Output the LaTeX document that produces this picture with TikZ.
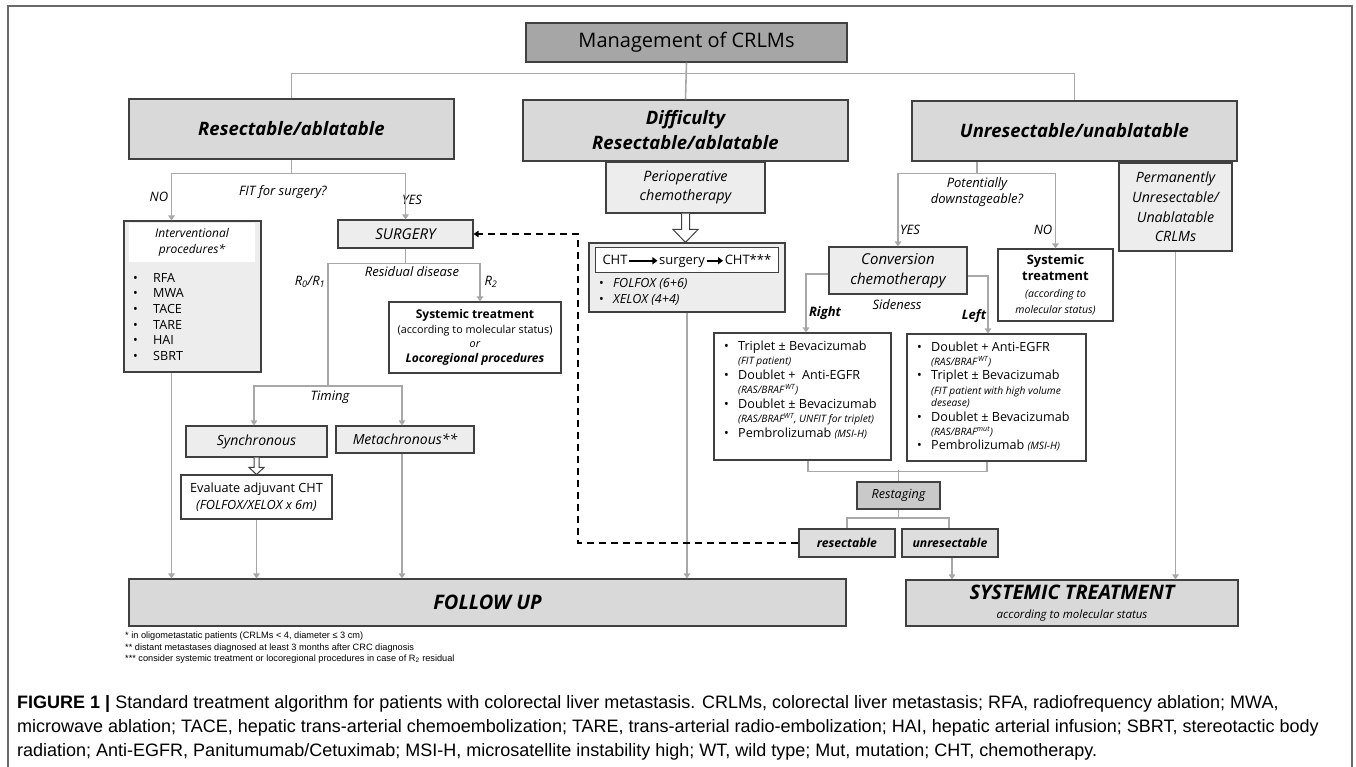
\documentclass[tikz,border=0pt]{standalone}
\usepackage{fontspec}
\setmainfont{Open Sans}
\newfontfamily\capfont{Liberation Sans}
\usetikzlibrary{arrows.meta,positioning,calc}
\definecolor{boxline}{HTML}{404040}
\definecolor{connc}{HTML}{A8A8A8}
\definecolor{mgmtfill}{HTML}{A6A6A6}
\definecolor{catfill}{HTML}{D9D9D9}
\definecolor{lightfill}{HTML}{EDEDED}
\definecolor{stagefill}{HTML}{C9C9C9}
\definecolor{resfill}{HTML}{DEDEDE}
\definecolor{framec}{HTML}{6A6A6A}
\newcommand{\fsz}[2]{\fontsize{#1}{#2}\selectfont}
\newcommand{\subnote}[1]{{\fsz{10.2}{10}\itshape #1}}
\newcommand{\hollowarrow}[5]{%
	\draw[hollow] let \p1=(#1), \p2=(#2) in
	(\x1-#3,\y1) -- (\x1-#3,\y2+#5) -- (\x1-#4,\y2+#5) -- (\x1,\y2)
	-- (\x1+#4,\y2+#5) -- (\x1+#3,\y2+#5) -- (\x1+#3,\y1);}
\tikzset{
	box/.style={draw=boxline, line width=1.1pt, inner sep=0pt, align=center},
	catbox/.style={box, fill=catfill, font=\fsz{18.5}{25}\bfseries\itshape},
	lightbox/.style={box, fill=lightfill},
	whitebox/.style={box, fill=white},
	listtxt/.style={anchor=base west, inner sep=0pt},
	seqtxt/.style={anchor=base, inner sep=1.5pt, text height=9pt, text depth=2.5pt, font=\fsz{13}{15}},
	lbl/.style={inner sep=0pt, align=center, font=\fsz{13}{16}\itshape},
	conn/.style={draw=connc, line width=1.6pt},
	arr/.style={conn, -{Triangle[width=6.5pt,length=5pt]}},
	dasharr/.style={draw=black, line width=1.6pt, dash pattern=on 7pt off 5pt, -{Triangle[width=6.5pt,length=5pt]}},
	seqarr/.style={draw=black, line width=2pt, -{Triangle[width=7pt,length=5pt]}},
	hollow/.style={draw=boxline, fill=white, line width=1pt},
	frame/.style={draw=framec, line width=1.2pt}
}
\begin{document}
\begin{tikzpicture}[x=1pt,y=-1pt]
	\useasboundingbox (0,0) rectangle (1356,767);
	\draw[frame] (8,767) -- (8,6) -- (1352,6) -- (1352,767);
	
	% top level
	\node[box,fill=mgmtfill,minimum width=321,minimum height=39,font=\fsz{20}{24}] (mgmt) at (686.5,42.5) {Management of CRLMs};
	\node[catbox,minimum width=325,minimum height=60] (resect) at (291.5,129) {Resectable/ablatable};
	\node[catbox,minimum width=325,minimum height=61] (diffic) at (685.5,130.5) {Difficulty\\Resectable/ablatable};
	\node[catbox,minimum width=325,minimum height=60] (unres) at (1074.5,131) {Unresectable/unablatable};
	
	% resectable branch
	\node[lightbox,minimum width=137,minimum height=151] (interv) at (192.5,296.5) {};
	\node[fill=white,inner sep=0pt,minimum width=126,minimum height=39,align=center,font=\fsz{12}{16}\itshape] (intervhead) at (192,242.5) {Interventional\\procedures*};
	\node[listtxt,font=\fsz{12.6}{15.7}] (intervlist) at (133,282) {\begin{tabular}[t]{@{}p{20pt}@{}l@{}}
		\textbullet & RFA\\ \textbullet & MWA\\ \textbullet & TACE\\ \textbullet & TARE\\ \textbullet & HAI\\ \textbullet & SBRT
	\end{tabular}};
	\node[lightbox,minimum width=135,minimum height=28,font=\fsz{15}{18}\itshape] (surg) at (405.5,234) {SURGERY};
	\node[whitebox,minimum width=172,minimum height=71,font=\fsz{10.8}{14.5}] (syst1) at (475,337.5) {{\fsz{12}{14.5}\bfseries Systemic treatment}\\(according to molecular status)\\\textit{or}\\{\fsz{12}{14.5}\bfseries\itshape Locoregional procedures}};
	\node[lightbox,minimum width=141,minimum height=31,font=\fsz{14}{17}\itshape] (sync) at (256.5,441.5) {Synchronous};
	\node[lightbox,minimum width=138,minimum height=27,font=\fsz{14}{17}\itshape] (meta) at (405,439.5) {Metachronous**};
	\node[whitebox,minimum width=151,minimum height=44,font=\fsz{12.7}{17}] (evalb) at (256.5,497) {Evaluate adjuvant CHT\\\textit{(FOLFOX/XELOX x 6m)}};
	\node[catbox,minimum width=717,minimum height=47,font=\fsz{20}{24}\bfseries\itshape] (follow) at (487.5,602.5) {FOLLOW UP};
	
	% difficulty branch
	\node[lightbox,minimum width=159,minimum height=51,font=\fsz{14.4}{19}\itshape] (peri) at (685.5,187.5) {Perioperative\\chemotherapy};
	\node[lightbox,minimum width=196,minimum height=69] (chtbox) at (687,277.5) {};
	\node[whitebox,line width=0.8pt,minimum width=183,minimum height=25] (chtseq) at (686.5,259.5) {};
	\node[seqtxt] (cht1) at (615,264) {CHT};
	\node[seqtxt] (surg2) at (682,264) {surgery};
	\node[seqtxt] (cht2) at (748,264) {CHT***};
	\node[listtxt,font=\fsz{12.6}{16}] (chtlist) at (599,287.5) {\begin{tabular}[t]{@{}p{14pt}@{}l@{}}
		\textbullet & \textit{FOLFOX (6+6)}\\ \textbullet & \textit{XELOX (4+4)}
	\end{tabular}};
	
	% unresectable branch
	\node[lightbox,minimum width=138,minimum height=47,font=\fsz{15}{20}\itshape] (conv) at (898,270.5) {Conversion\\chemotherapy};
	\node[whitebox,minimum width=115,minimum height=72,font=\fsz{10.5}{16.3}] (systno) at (1055.5,285) {{\fsz{12.9}{16.3}\bfseries Systemic}\\{\fsz{12.9}{16.3}\bfseries treatment}\\\textit{(according to}\\\textit{molecular status)}};
	\node[lightbox,minimum width=113,minimum height=88,font=\fsz{14.2}{19.6}\itshape] (perm) at (1175.5,207) {Permanently\\Unresectable/\\Unablatable\\CRLMs};
	\node[whitebox,minimum width=177,minimum height=127] (rightb) at (802.5,396.5) {};
	\node[listtxt,font=\fsz{12.6}{14.5}] (rightlist) at (724,350) {\begin{tabular}[t]{@{}p{14pt}@{}l@{}}
		\textbullet & Triplet ± Bevacizumab\\
		& \subnote{(FIT patient)}\\
		\textbullet & Doublet + \ Anti-EGFR\\
		& \subnote{(RAS/BRAF\textsuperscript{\,WT})}\\
		\textbullet & Doublet ± Bevacizumab\\
		& \subnote{(RAS/BRAF\textsuperscript{WT}, UNFIT for triplet)}\\
		\textbullet & Pembrolizumab \subnote{(MSI-H)}
	\end{tabular}};
	\node[whitebox,minimum width=179,minimum height=127] (leftb) at (996.5,397.5) {};
	\node[listtxt,font=\fsz{12.6}{14.4}] (leftlist) at (917,351) {\begin{tabular}[t]{@{}p{14pt}@{}l@{}}
		\textbullet & Doublet + Anti-EGFR\\
		& \subnote{(RAS/BRAF\textsuperscript{\,WT})}\\
		\textbullet & Triplet ± Bevacizumab\\
		& \subnote{(FIT patient with high volume}\\[-2pt]
		& \subnote{desease)}\\
		\textbullet & Doublet ± Bevacizumab\\
		& \subnote{(RAS/BRAF\textsuperscript{mut})}\\
		\textbullet & Pembrolizumab \subnote{(MSI-H)}
	\end{tabular}};
	\node[box,fill=stagefill,minimum width=83,minimum height=27,font=\fsz{12.6}{15}\itshape] (restag) at (898.5,495.5) {Restaging};
	\node[box,fill=resfill,minimum width=96,minimum height=28,font=\fsz{12.2}{15}\bfseries\itshape] (resb) at (847,543) {resectable};
	\node[box,fill=resfill,minimum width=96,minimum height=28,font=\fsz{12.2}{15}\bfseries\itshape] (unresb) at (950,543) {unresectable};
	\node[catbox,minimum width=332,minimum height=46,font=\fsz{11.5}{19}] (systT) at (1072,603) {{\fsz{20}{19}\bfseries\itshape SYSTEMIC TREATMENT}\\\textit{according to molecular status}};
	
	% labels
	\node[lbl] (fitq) at (283,192) {FIT for surgery?};
	\node[lbl] (noL) at (159,197) {NO};
	\node[lbl] (yesL) at (412,200) {YES};
	\node[lbl] (resid) at (412,272) {Residual disease};
	\node[lbl] (r01) at (310,282) {R\textsubscript{0}/R\textsubscript{1}};
	\node[lbl] (r2) at (491,282) {R\textsubscript{2}};
	\node[lbl] (timing) at (330,397) {Timing};
	\node[lbl] (potq) at (977,192) {Potentially\\downstageable?};
	\node[lbl] (yesR) at (910,230) {YES};
	\node[lbl] (noR) at (1043,230) {NO};
	\node[lbl] (side) at (897,305) {Sideness};
	\node[lbl,font=\fsz{13}{16}\bfseries\itshape] (rightL) at (825,313) {Right};
	\node[lbl,font=\fsz{13}{16}\bfseries\itshape] (leftL) at (974,316) {Left};
	
	% connectors
	\draw[conn] (mgmt.south) -- (diffic.north);
	\draw[conn] (resect.north) -- ++(0,-25) -| (unres.north);
	\draw[conn] (resect.south) -- ++(0,14) coordinate (fitbar);
	\draw[arr] (fitbar) -| ([xshift=-21pt]interv.north);
	\draw[arr] (fitbar) -| (surg.north);
	\draw[conn] (surg.south) -- ++(0,15) coordinate (resbar);
	\coordinate (timebar) at (328,386);
	\draw[arr] (resbar) -| ([xshift=5pt]syst1.north);
	\draw[conn] (resbar) -| (timebar);
	\draw[arr] (timebar) -| ([xshift=-2.5pt]sync.north);
	\draw[arr] (timebar) -| ([xshift=-3pt]meta.north);
	\hollowarrow{sync.south}{evalb.north}{2.5pt}{7.5pt}{7pt}
	\draw[arr] ([xshift=-21pt]interv.south) -- ([xshift=-21pt]interv.south |- follow.north);
	\draw[arr] (evalb.south) -- (evalb.south |- follow.north);
	\draw[arr] ([xshift=-3pt]meta.south) -- ([xshift=-3pt]meta.south |- follow.north);
	\hollowarrow{peri.south}{chtbox.north}{4pt}{12.5pt}{13pt}
	\draw[seqarr] (cht1) -- (surg2);
	\draw[seqarr] (surg2) -- (cht2);
	\draw[arr] (chtbox.south) -- (chtbox.south |- follow.north);
	\draw[conn] ([xshift=-97.5pt]unres.south) -- ++(0,12) coordinate (downbar);
	\draw[arr] (downbar) -| (conv.north);
	\draw[arr] (downbar) -| (systno.north);
	\draw[arr] ([yshift=-3.5pt]conv.west) -| ([xshift=3.5pt]rightb.north);
	\draw[arr] ([yshift=-5.5pt]conv.east) -| ([xshift=-8.5pt]leftb.north);
	\draw[conn] ([xshift=5.5pt]rightb.south) -- ++(0,11) -| ([xshift=-9.5pt]leftb.south);
	\draw[conn] (restag.north) -- ++(0,-11);
	\draw[conn] (restag.south) -- ++(0,8.5) coordinate (stagebar);
	\draw[conn] (stagebar) -| (resb.north);
	\draw[conn] (stagebar) -| ([xshift=-1pt]unresb.north);
	\draw[arr] ([xshift=2pt]unresb.south) -- ([xshift=2pt]unresb.south |- systT.north);
	\draw[arr] (perm.south) -- (perm.south |- systT.north);
	\coordinate (loopc) at (578,234);
	\draw[dasharr] (resb.west) -| (loopc) -- (surg.east);
	
	% notes and caption
	\node[listtxt,font=\capfont\fsz{9.2}{11.5}] (notes) at (125,638.5) {\begin{tabular}[t]{@{}l@{}}
		{*} in oligometastatic patients (CRLMs < 4, diameter ≤ 3 cm)\\
		{**} distant metastases diagnosed at least 3 months after CRC diagnosis\\
		{***} consider systemic treatment or locoregional procedures in case of R\textsubscript{2} residual
	\end{tabular}};
	\node[listtxt,font=\capfont\fsz{18}{24}] (caption) at (17,708) {\begin{tabular}[t]{@{}l@{}}
		\textbf{FIGURE 1 |} Standard treatment algorithm for patients with colorectal liver metastasis. CRLMs, colorectal liver metastasis; RFA, radiofrequency ablation; MWA,\\
		microwave ablation; TACE, hepatic trans-arterial chemoembolization; TARE, trans-arterial radio-embolization; HAI, hepatic arterial infusion; SBRT, stereotactic body\\
		radiation; Anti-EGFR, Panitumumab/Cetuximab; MSI-H, microsatellite instability high; WT, wild type; Mut, mutation; CHT, chemotherapy.
	\end{tabular}};
\end{tikzpicture}
\end{document}
